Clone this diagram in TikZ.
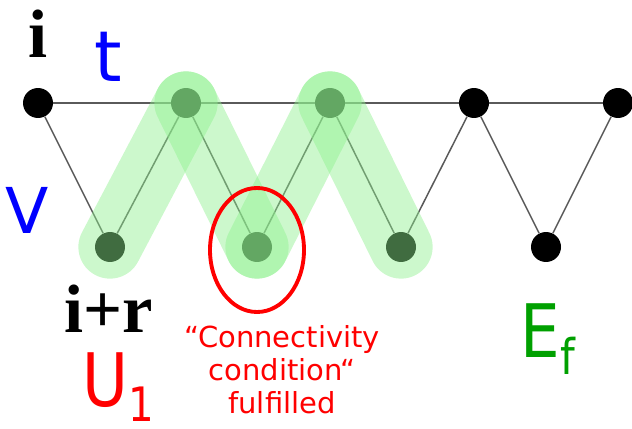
\documentclass[tikz,border=0pt]{standalone}
\usepackage{fontspec}
\setmainfont{DejaVu Sans}
\newfontfamily\labelserif{Liberation Serif}
\newfontfamily\narrowsans[FakeStretch=0.85]{DejaVu Sans}
\usepackage{xcolor}
\usetikzlibrary{positioning}

\definecolor{bandgreen}{RGB}{142,240,142}
\definecolor{efgreen}{RGB}{0,160,0}
\definecolor{edgegray}{RGB}{90,90,90}

\begin{document}
\begin{tikzpicture}[x=0.02cm, y=-0.02cm,
    vtx/.style={circle, fill=black, minimum size=0.6cm, inner sep=0pt},
    edge/.style={edgegray, line width=0.85pt},
    band/.style={bandgreen, line width=36pt, line cap=round, opacity=0.45},
    bigsans/.style={anchor=base, inner sep=0pt},
    bigserif/.style={anchor=base, inner sep=0pt, font=\fontsize{39}{39}\selectfont\labelserif\bfseries}
  ]
      \useasboundingbox (0,0) rectangle (632,429);
      
      % vertices
      \foreach \n/\x in {1/38, 2/186, 3/330, 4/474, 5/618}{
        \node[vtx] (t\n) at (\x, 103) {};
      }
      \foreach \n/\x in {1/110, 2/257, 3/401, 4/546}{
        \node[vtx] (b\n) at (\x, 247) {};
      }
      
      % edges
      \draw[edge] (t1) -- (t2) -- (t3) -- (t4) -- (t5);
      \draw[edge] (t1) -- (b1) -- (t2) -- (b2) -- (t3) -- (b3) -- (t4) -- (b4) -- (t5);
      
      % green path
      \foreach \a/\b in {b1/t2, t2/b2, b2/t3, t3/b3}{
        \draw[band] (\a.center) -- (\b.center);
      }
      
      \draw[red, line width=2.2pt] (b2.center) ++(0,3) ellipse [x radius=47, y radius=62];
      
      % labels
      \node[bigserif] (lbl-i) at (38, 58) {i};
      \node[bigserif] (lbl-ir) at (109, 332) {i+r};
      \node[bigsans, blue, font=\fontsize{40}{40}\selectfont] (lbl-t) at (108, 82) {t};
      \node[bigsans, blue, font=\fontsize{36}{36}\selectfont] (lbl-V) at (27, 233) {V};
      \node[bigsans, red, font=\fontsize{42}{42}\selectfont\narrowsans] (lbl-U) at (118, 406)
        {U\raisebox{-9pt}{\fontsize{27}{27}\selectfont 1}};
      \node[bigsans, efgreen, font=\fontsize{42}{42}\selectfont\narrowsans] (lbl-E) at (548, 357)
        {E\raisebox{-10pt}{\fontsize{28}{28}\selectfont f}};
      \node[red, align=center, font=\fontsize{16.5}{18.7}\selectfont, anchor=base] (lbl-cond) at (282, 413)
        {“Connectivity\\condition“\\fulfilled};
      
\end{tikzpicture}
\end{document}
